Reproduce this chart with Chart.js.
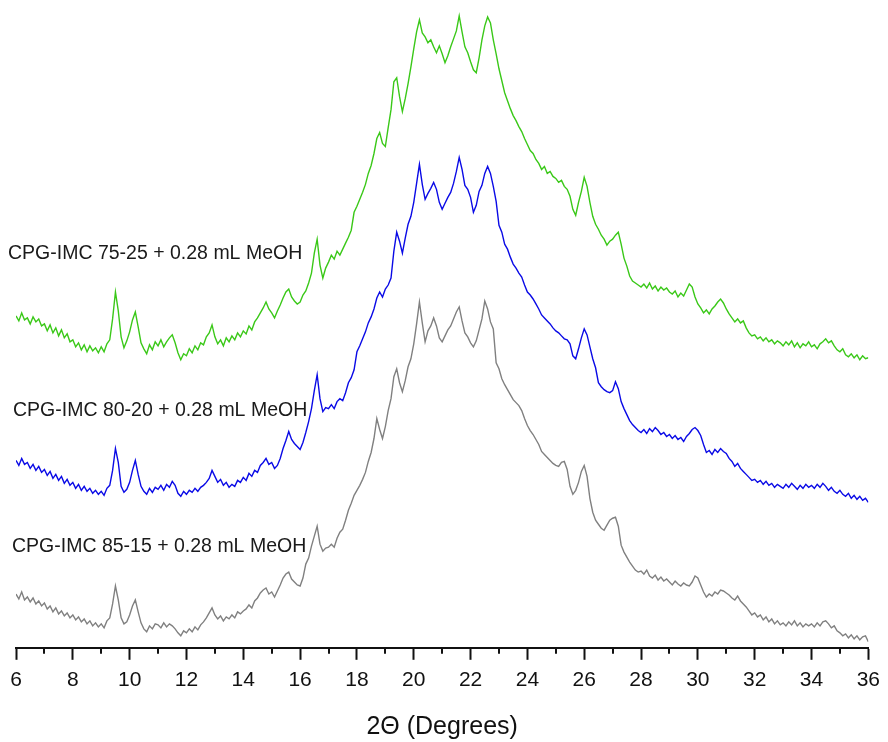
<!DOCTYPE html>
<html>
<head>
<meta charset="utf-8">
<title>XRD patterns</title>
<script src="https://cdn.jsdelivr.net/npm/chart.js@4.4.1/dist/chart.umd.min.js"></script>
<style>
	html, body { margin: 0; padding: 0; background: #fff; }
	#wrap { width: 888px; height: 742px; position: relative; }
</style>
</head>
<body>
<div id="wrap"><canvas id="xrdChart" width="888" height="742"></canvas></div>
<script>
/* 資料 (讀自圖片, 強度為任意單位) */
// 2θ 取樣: 6.0 ~ 36.0, 每 0.1 度一點
var angleStart = 6.0;
var angleStep = 0.1;

var xTicks = [6, 8, 10, 12, 14, 16, 18, 20, 22, 24, 26, 28, 30, 32, 34, 36];

var seriesNames = [
	'CPG-IMC 75-25 + 0.28 mL MeOH',
	'CPG-IMC 80-20 + 0.28 mL MeOH',
	'CPG-IMC 85-15 + 0.28 mL MeOH'
];

// 75-25 (綠)
var green7525 = [
	333, 328, 336, 329, 331, 325, 332, 327, 330, 323,
	325, 318, 324, 316, 321, 313, 319, 311, 315, 307,
	309, 302, 306, 299, 304, 297, 303, 298, 301, 296,
	302, 297, 305, 309, 330, 357, 338, 312, 301, 308,
	317, 329, 337, 322, 306, 300, 295, 304, 299, 307,
	303, 309, 302, 307, 311, 314, 306, 296, 289, 295,
	293, 300, 296, 303, 299, 306, 304, 312, 316, 324,
	312, 305, 309, 303, 311, 307, 313, 309, 316, 312,
	318, 315, 323, 319, 327, 331, 336, 341, 347, 340,
	336, 331, 338, 344, 351, 357, 360, 352, 348, 345,
	347, 354, 358, 366, 376, 396, 410, 384, 371, 381,
	387, 394, 390, 398, 394, 400, 406, 412, 419, 437,
	443, 450, 457, 465, 476, 484, 496, 511, 517, 506,
	503, 522, 540, 568, 572, 553, 538, 551, 566, 583,
	601, 618, 630, 617, 613, 607, 610, 603, 597, 604,
	596, 587, 594, 603, 611, 619, 634, 618, 603, 597,
	588, 580, 577, 592, 610, 624, 633, 627, 610, 596,
	581, 569, 557, 549, 541, 534, 529, 523, 518, 511,
	505, 499, 496, 490, 486, 480, 483, 476, 478, 473,
	471, 467, 469, 463, 460, 453, 440, 434, 447, 458,
	472, 463, 447, 433, 425, 420, 414, 410, 404, 408,
	410, 414, 417, 405, 391, 383, 373, 368, 366, 364,
	362, 365, 361, 366, 360, 363, 358, 362, 359, 361,
	357, 355, 358, 352, 356, 353, 359, 365, 362, 352,
	345, 341, 336, 339, 335, 340, 343, 347, 350, 346,
	340, 335, 331, 327, 330, 326, 328, 321, 316, 313,
	314, 310, 312, 308, 311, 307, 309, 305, 308, 306,
	303, 307, 304, 308, 302, 306, 301, 305, 303, 307,
	302, 304, 300, 305, 307, 310, 306, 308, 303, 299,
	297, 300, 294, 292, 295, 291, 294, 289, 293, 290,
	291
];

// 80-20 (藍)
var blue8020 = [
	188, 183, 190, 184, 186, 180, 184, 178, 182, 176,
	179, 173, 177, 170, 174, 168, 172, 165, 169, 163,
	166, 160, 164, 158, 162, 157, 160, 155, 158, 154,
	157, 153, 160, 163, 178, 200, 186, 162, 156, 159,
	166, 178, 188, 174, 162, 157, 154, 160, 156, 161,
	159, 163, 158, 164, 161, 167, 163, 155, 152, 157,
	154, 158, 156, 160, 157, 161, 163, 166, 170, 178,
	172, 166, 169, 163, 166, 161, 164, 162, 168, 166,
	171, 168, 175, 172, 178, 176, 183, 186, 190, 184,
	186, 180, 183, 190, 200, 208, 217, 209, 205, 202,
	199, 206, 216, 227, 240, 258, 274, 250, 237, 241,
	240, 244, 240, 247, 250, 248, 256, 266, 271, 279,
	297, 303, 310, 317, 326, 332, 340, 351, 357, 352,
	360, 364, 371, 398, 417, 408, 396, 411, 425, 433,
	447, 466, 485, 465, 450, 456, 461, 467, 460, 447,
	440, 446, 452, 457, 466, 478, 492, 480, 464, 460,
	452, 437, 444, 458, 464, 476, 483, 476, 463, 448,
	424, 417, 405, 400, 392, 385, 381, 376, 372, 364,
	357, 354, 350, 345, 340, 334, 331, 328, 325, 321,
	318, 316, 313, 310, 309, 305, 293, 290, 300, 311,
	320, 314, 302, 290, 281, 266, 262, 259, 257, 256,
	258, 267, 260, 247, 240, 234, 228, 224, 221, 218,
	216, 219, 215, 220, 217, 221, 218, 214, 216, 212,
	214, 210, 213, 209, 211, 207, 212, 215, 219, 221,
	218, 213, 204, 196, 198, 194, 199, 196, 200, 197,
	195, 190, 187, 182, 185, 180, 177, 174, 171, 168,
	169, 166, 168, 164, 167, 163, 165, 161, 164, 162,
	160, 164, 161, 165, 162, 159, 163, 160, 164, 161,
	163, 160, 164, 161, 165, 162, 158, 161, 157, 155,
	158, 154, 152, 155, 150, 153, 149, 152, 148, 150,
	146
];

// 85-15 (灰)
var gray8515 = [
	54, 49, 56, 48, 51, 46, 50, 44, 47, 42,
	45, 39, 42, 36, 40, 34, 37, 32, 35, 30,
	33, 28, 31, 26, 29, 24, 27, 22, 25, 21,
	24, 20, 27, 30, 44, 62, 48, 30, 24, 26,
	33, 42, 48, 36, 25, 19, 16, 22, 19, 24,
	23, 20, 25, 21, 24, 22, 19, 15, 12, 17,
	15, 19, 16, 21, 18, 23, 26, 30, 35, 40,
	33, 29, 32, 27, 31, 29, 33, 30, 36, 34,
	37, 39, 43, 40, 47, 50, 55, 58, 60, 54,
	56, 51, 57, 63, 70, 74, 76, 69, 66, 63,
	62, 70, 84, 90, 102, 112, 122, 104, 97, 100,
	101, 104, 101, 110, 116, 119, 128, 138, 145, 153,
	158, 163, 169, 176, 187, 196, 210, 230, 219, 210,
	222, 238, 250, 272, 280, 266, 257, 268, 282, 290,
	305, 325, 347, 326, 307, 318, 323, 331, 323, 311,
	307, 313, 319, 323, 330, 337, 342, 328, 316, 312,
	306, 302, 308, 319, 330, 348, 340, 327, 320, 286,
	280, 270, 264, 259, 254, 249, 246, 243, 238, 230,
	223, 218, 214, 209, 204, 197, 194, 191, 188, 185,
	183, 182, 186, 187, 179, 162, 154, 158, 166, 177,
	183, 172, 150, 136, 128, 124, 120, 118, 123, 128,
	130, 131, 122, 103, 96, 91, 86, 82, 78, 76,
	77, 74, 78, 72, 70, 73, 68, 71, 67, 69,
	66, 63, 67, 64, 62, 65, 63, 62, 66, 72,
	70, 63, 56, 51, 54, 52, 56, 54, 58, 57,
	55, 53, 50, 48, 52, 47, 44, 41, 37, 33,
	35, 31, 33, 28, 31, 26, 29, 24, 27, 23,
	25, 22, 26, 23, 27, 22, 25, 21, 24, 22,
	24, 21, 25, 22, 26, 27, 24, 20, 22, 17,
	15, 12, 14, 10, 13, 9, 12, 8, 11, 12,
	6
];

/* 組成 {x, y} 點 */
function toPoints(values) {
	var pts = [];
	for (var i = 0; i < values.length; i++) {
		pts.push({ x: +(angleStart + i * angleStep).toFixed(1), y: values[i] });
	}
	return pts;
}

/* 圖上文字 & 次刻度 */
var labelPos = [
	{ x: 8, y: 254 },
	{ x: 13, y: 411 },
	{ x: 12, y: 547 }
];

var xrdDecor = {
	id: 'xrdDecor',
	afterDraw: function(chart) {
		var ctx = chart.ctx;
		var xs = chart.scales.x;
		var bottom = chart.chartArea.bottom;
		ctx.save();
		// 次刻度 (奇數度)
		ctx.strokeStyle = '#111';
		ctx.lineWidth = 2;
		for (var d = 7; d < 36; d += 2) {
			var px = Math.round(xs.getPixelForValue(d));
			ctx.beginPath();
			ctx.moveTo(px, bottom);
			ctx.lineTo(px, bottom + 6);
			ctx.stroke();
		}
		// 樣品名稱
		ctx.fillStyle = '#1a1a1a';
		ctx.font = '19.5px "Liberation Sans", Arial, sans-serif';
		ctx.textBaseline = 'middle';
		ctx.textAlign = 'left';
		for (var i = 0; i < seriesNames.length; i++) {
			ctx.fillText(seriesNames[i], labelPos[i].x, labelPos[i].y);
		}
		ctx.restore();
	}
};

var ctx = document.getElementById('xrdChart');

var myChart = new Chart(ctx, {
	type: 'line',
	data: {
		datasets: [
			{ label: seriesNames[0], data: toPoints(green7525), borderColor: 'rgb(58, 200, 24)', borderWidth: 1.4 },
			{ label: seriesNames[1], data: toPoints(blue8020), borderColor: 'rgb(10, 10, 230)', borderWidth: 1.4 },
			{ label: seriesNames[2], data: toPoints(gray8515), borderColor: 'rgb(128, 128, 128)', borderWidth: 1.4 }
		]
	},
	options: {
		responsive: false,
		animation: false,
		events: [],
		elements: {
			point: { radius: 0 },
			line: { tension: 0 }
		},
		layout: {
			padding: { left: 16, right: 16, top: 0, bottom: 0 }
		},
		plugins: {
			legend: { display: false },
			tooltip: { enabled: false }
		},
		scales: {
			x: {
				type: 'linear',
				min: 6,
				max: 36,
				afterBuildTicks: function(scale) {
					scale.ticks = xTicks.map(function(v) { return { value: v }; });
				},
				border: { display: true, color: '#111', width: 2 },
				grid: {
					drawOnChartArea: false,
					drawTicks: true,
					tickLength: 12,
					tickWidth: 2,
					tickColor: '#111'
				},
				ticks: {
					color: '#111',
					padding: 8,
					maxRotation: 0,
					autoSkip: false,
					font: { family: '"Liberation Sans", Arial, sans-serif', size: 21 }
				},
				title: {
					display: true,
					text: '2Θ (Degrees)',
					color: '#111',
					padding: { top: 11, bottom: 0 },
					font: { family: '"Liberation Sans", Arial, sans-serif', size: 25 }
				}
			},
			y: {
				display: false,
				min: 0,
				max: 650
			}
		}
	},
	plugins: [xrdDecor]
});
</script>
</body>
</html>
